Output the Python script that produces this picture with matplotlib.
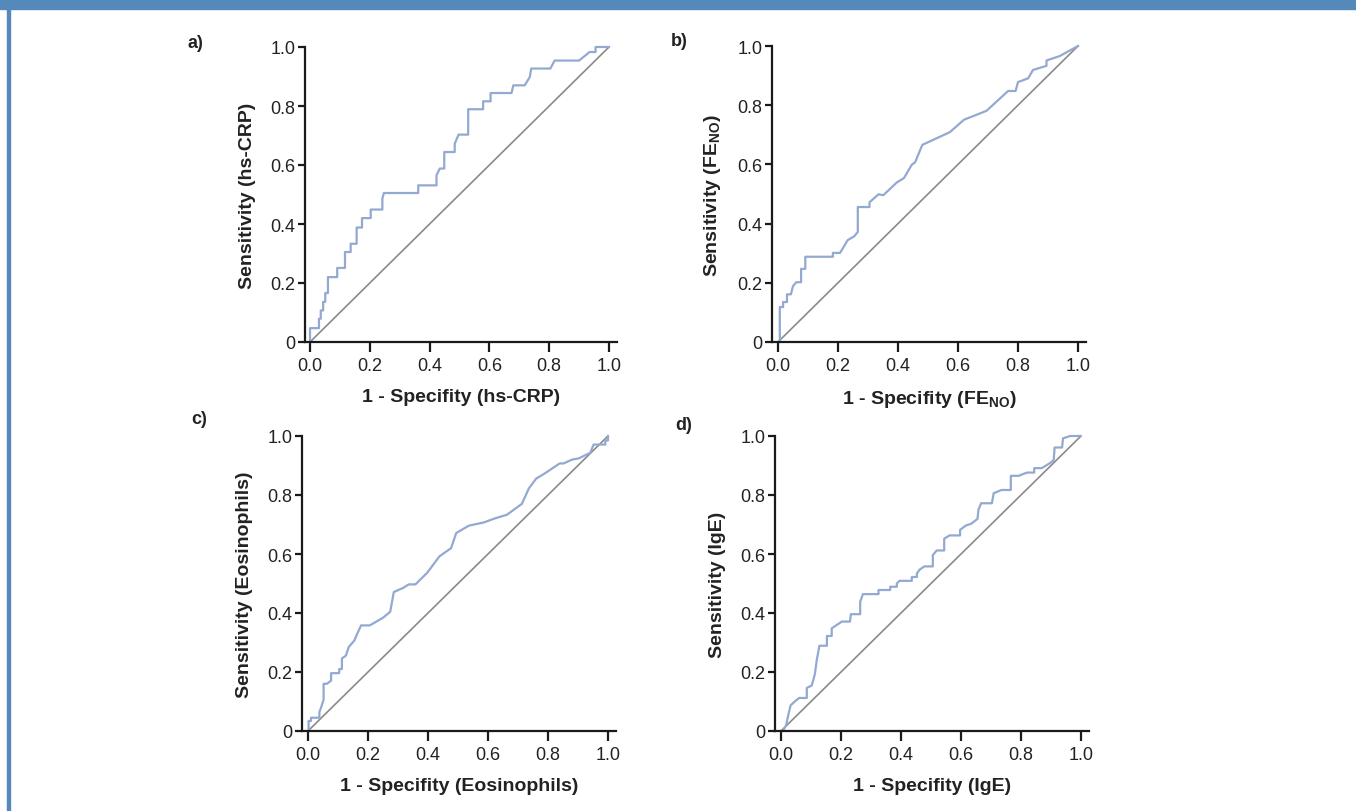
import matplotlib
matplotlib.use("Agg")
import matplotlib.pyplot as plt
from matplotlib.patches import Rectangle

plt.rcParams['font.family'] = ['Liberation Sans', 'DejaVu Sans']
plt.rcParams['mathtext.fontset'] = 'custom'
plt.rcParams['mathtext.rm'] = 'Liberation Sans'
plt.rcParams['mathtext.bf'] = 'Liberation Sans:bold'

# ROC curve vertices (1 - specificity, sensitivity)
crp_fpr = [0, 0, 0.030, 0.030, 0.036, 0.036, 0.044, 0.044, 0.051, 0.051, 0.060, 0.060,
           0.091, 0.091, 0.117, 0.117, 0.136, 0.136, 0.156, 0.156, 0.174, 0.174, 0.203,
           0.203, 0.242, 0.242, 0.247, 0.362, 0.362, 0.423, 0.423, 0.434, 0.449, 0.449,
           0.484, 0.484, 0.497, 0.529, 0.529, 0.579, 0.579, 0.604, 0.604, 0.674, 0.680,
           0.718, 0.735, 0.740, 0.804, 0.818, 0.900, 0.935, 0.955, 0.955, 1.0]
crp_tpr = [0, 0.047, 0.047, 0.079, 0.079, 0.107, 0.107, 0.136, 0.136, 0.166, 0.166, 0.220,
           0.220, 0.251, 0.251, 0.305, 0.305, 0.333, 0.333, 0.388, 0.388, 0.420, 0.420,
           0.449, 0.449, 0.486, 0.505, 0.505, 0.531, 0.531, 0.565, 0.588, 0.588, 0.644,
           0.644, 0.672, 0.703, 0.703, 0.789, 0.789, 0.816, 0.816, 0.844, 0.844, 0.870,
           0.870, 0.898, 0.927, 0.927, 0.954, 0.954, 0.983, 0.983, 1.0, 1.0]

feno_fpr = [0.006, 0.006, 0.017, 0.017, 0.030, 0.030, 0.043, 0.050, 0.061, 0.077, 0.077,
            0.091, 0.091, 0.183, 0.183, 0.207, 0.232, 0.254, 0.266, 0.266, 0.305, 0.305,
            0.335, 0.351, 0.396, 0.420, 0.446, 0.457, 0.481, 0.573, 0.620, 0.695, 0.767,
            0.792, 0.800, 0.834, 0.850, 0.895, 0.895, 0.939, 1.0]
feno_tpr = [0, 0.118, 0.118, 0.135, 0.135, 0.161, 0.161, 0.189, 0.202, 0.202, 0.247,
            0.247, 0.288, 0.288, 0.301, 0.301, 0.344, 0.357, 0.372, 0.456, 0.456, 0.472,
            0.499, 0.496, 0.539, 0.554, 0.599, 0.607, 0.666, 0.709, 0.751, 0.781, 0.848,
            0.848, 0.878, 0.891, 0.919, 0.933, 0.951, 0.966, 1.0]

eos_fpr = [0.002, 0.002, 0.010, 0.010, 0.038, 0.038, 0.044, 0.052, 0.052, 0.063, 0.077,
           0.077, 0.104, 0.104, 0.113, 0.113, 0.126, 0.136, 0.154, 0.166, 0.177, 0.206,
           0.250, 0.274, 0.286, 0.317, 0.336, 0.358, 0.397, 0.438, 0.477, 0.494, 0.536,
           0.586, 0.624, 0.663, 0.713, 0.736, 0.761, 0.786, 0.839, 0.852, 0.880, 0.902,
           0.941, 0.952, 0.991, 0.991, 1.0, 1.0]
eos_tpr = [0, 0.034, 0.034, 0.045, 0.045, 0.064, 0.081, 0.106, 0.160, 0.160, 0.171,
           0.196, 0.196, 0.210, 0.210, 0.246, 0.255, 0.285, 0.306, 0.334, 0.358, 0.358,
           0.384, 0.404, 0.471, 0.485, 0.497, 0.497, 0.536, 0.592, 0.620, 0.671, 0.696,
           0.707, 0.721, 0.733, 0.770, 0.822, 0.856, 0.871, 0.907, 0.907, 0.920, 0.924,
           0.943, 0.971, 0.971, 0.985, 0.985, 1.0]

ige_fpr = [0, 0.006, 0.017, 0.024, 0.032, 0.047, 0.061, 0.086, 0.086, 0.102, 0.108, 0.113,
           0.119, 0.128, 0.153, 0.153, 0.169, 0.169, 0.191, 0.203, 0.230, 0.233, 0.264,
           0.264, 0.273, 0.325, 0.325, 0.364, 0.364, 0.386, 0.386, 0.395, 0.436, 0.436,
           0.453, 0.453, 0.462, 0.478, 0.506, 0.506, 0.519, 0.544, 0.544, 0.562, 0.597,
           0.597, 0.617, 0.633, 0.655, 0.658, 0.667, 0.703, 0.709, 0.735, 0.766, 0.766,
           0.792, 0.820, 0.844, 0.844, 0.869, 0.895, 0.909, 0.912, 0.937, 0.940, 0.964,
           0.997]
ige_tpr = [0, 0, 0.019, 0.053, 0.087, 0.101, 0.112, 0.112, 0.146, 0.154, 0.174, 0.194,
           0.239, 0.289, 0.289, 0.322, 0.322, 0.348, 0.363, 0.371, 0.371, 0.396, 0.396,
           0.438, 0.464, 0.464, 0.478, 0.478, 0.489, 0.489, 0.500, 0.509, 0.509, 0.522,
           0.522, 0.534, 0.547, 0.558, 0.558, 0.596, 0.612, 0.612, 0.652, 0.663, 0.663,
           0.682, 0.697, 0.702, 0.719, 0.749, 0.772, 0.772, 0.806, 0.817, 0.817, 0.865,
           0.865, 0.876, 0.876, 0.891, 0.891, 0.907, 0.918, 0.961, 0.961, 0.992, 1.0,
           1.0]

panel_letters = ['a)', 'b)', 'c)', 'd)']
ylabels = ['Sensitivity (hs-CRP)', r'Sensitivity ($\mathbf{FE_{NO}}$)',
           'Sensitivity (Eosinophils)', 'Sensitivity (IgE)']
xlabels = ['1 - Specifity (hs-CRP)', r'1 - Specifity ($\mathbf{FE_{NO}}$)',
           '1 - Specifity (Eosinophils)', '1 - Specifity (IgE)']
curves = [(crp_fpr, crp_tpr), (feno_fpr, feno_tpr), (eos_fpr, eos_tpr), (ige_fpr, ige_tpr)]
ticks = [0, 0.2, 0.4, 0.6, 0.8, 1.0]
xticklabels = ['0.0', '0.2', '0.4', '0.6', '0.8', '1.0']
yticklabels = ['0', '0.2', '0.4', '0.6', '0.8', '1.0']

W, H = 1356, 812
# pixel layout per panel: spine x, x=0, x=1, right end, y=0, y=1, letter pos
layout = [
    (305, 310, 609, 617, 343, 48, (195, 44)),
    (772, 778, 1078, 1086, 343, 47, (679, 42)),
    (302, 308, 608, 616, 732, 437, (199, 420)),
    (775, 781, 1081, 1089, 732, 437, (684, 426)),
]

fig = plt.figure(figsize=(W / 100, H / 100), dpi=100)
fig.patches.append(Rectangle((0, 1 - 10 / H), 1, 10 / H, transform=fig.transFigure,
                             color='#5589b9', zorder=0))
fig.patches.append(Rectangle((7 / W, 0), 2.5 / W, 1, transform=fig.transFigure,
                             color='#5589b9', zorder=0))

curve_color = '#93a9d2'
for i in range(4):
    sx, x0, x1, xr, y0, y1, (lx, ly) = layout[i]
    ax = fig.add_axes([sx / W, 1 - y0 / H, (xr - sx) / W, (y0 - y1) / H])
    s = x1 - x0
    ax.set_xlim((sx - x0) / s, (xr - x0) / s)
    ax.set_ylim(0, 1)
    ax.plot([0, 1], [0, 1], color='#8a8a8a', lw=1.2, clip_on=False)
    ax.plot(curves[i][0], curves[i][1], color=curve_color, lw=1.6, clip_on=False)
    for side in ['top', 'right']:
        ax.spines[side].set_visible(False)
    for side in ['left', 'bottom']:
        ax.spines[side].set_linewidth(1.6)
        ax.spines[side].set_color('#1a1a1a')
    ax.set_xticks(ticks)
    ax.set_xticklabels(xticklabels)
    ax.set_yticks(ticks)
    ax.set_yticklabels(yticklabels)
    ax.tick_params(axis='x', length=7, width=1.6, color='#1a1a1a', labelsize=13,
                   labelcolor='#222222', pad=4)
    ax.tick_params(axis='y', length=5, width=1.6, color='#1a1a1a', labelsize=13,
                   labelcolor='#222222', pad=2)
    ax.set_xlabel(xlabels[i], fontsize=14, fontweight='bold', labelpad=10, color='#222222')
    ax.set_ylabel(ylabels[i], fontsize=14, fontweight='bold', labelpad=10, color='#222222')
    fig.text(lx / W, 1 - ly / H, panel_letters[i], fontsize=13, fontweight='bold',
             ha='center', va='center', color='#222222')

fig.savefig('out.png', dpi=100, facecolor='white')
